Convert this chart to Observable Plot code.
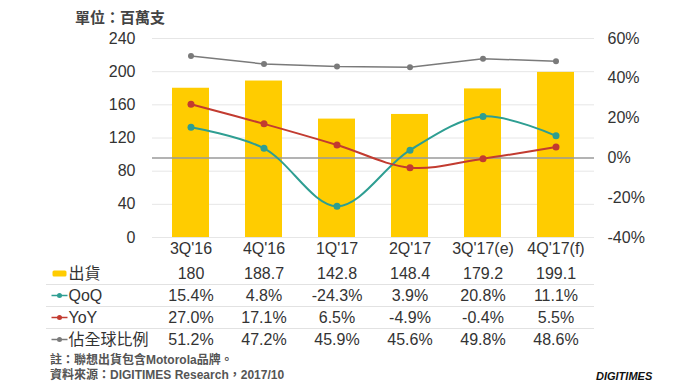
<!DOCTYPE html>
<html><head><meta charset="utf-8">
<script src="https://cdn.jsdelivr.net/npm/d3@7"></script>
<script src="https://cdn.jsdelivr.net/npm/@observablehq/plot@0.6"></script>
<style>
body{margin:0;background:#fff;font-family:"Liberation Sans",Arial,"Noto Sans CJK TC",sans-serif;}
#wrap{position:relative;width:680px;height:383px;overflow:hidden;background:#fff;}
#wrap svg{position:absolute;left:0;}
.t{position:absolute;white-space:nowrap;color:#444;}
</style></head><body><div id="wrap"></div>
<script>
const categories = ["3Q'16","4Q'16","1Q'17","2Q'17","3Q'17(e)","4Q'17(f)"];
const shipments = [180, 188.7, 142.8, 148.4, 179.2, 199.1];
const qoq = [15.4, 4.8, -24.3, 3.9, 20.8, 11.1];
const yoy = [27.0, 17.1, 6.5, -4.9, -0.4, 5.5];
const share = [51.2, 47.2, 45.9, 45.6, 49.8, 48.6];
const leftTicks = [0, 40, 80, 120, 160, 200, 240];
const rightTicks = [-40, -20, 0, 20, 40, 60];
const rowLabels = ["出貨", "QoQ", "YoY", "佔全球比例"];
const unitText = "單位：百萬支";
const noteText = "註：聯想出貨包含Motorola品牌。";
const sourceText = "資料來源：DIGITIMES Research，2017/10";

const BAR = "#FFCC00", TEAL = "#2E9E92", RED = "#C23B30", GRAY = "#7a7a7a";
const FONT = "'Liberation Sans',Arial,'Noto Sans CJK TC',sans-serif";
// percent (right axis, -40..60) mapped onto left axis (0..240)
const pct = p => (p + 40) * 2.4;
const unpct = v => Math.round(v / 2.4 - 40);

const data = categories.map((c, i) => ({cat: c, ship: shipments[i], qoq: qoq[i], yoy: yoy[i], share: share[i]}));
const wrap = document.getElementById("wrap");

const chart = Plot.plot({
  width: 680, height: 262,
  marginLeft: 152, marginRight: 86, marginTop: 38, marginBottom: 25,
  style: {fontFamily: FONT, fontSize: "16px", color: "#333", background: "transparent"},
  x: {type: "band", domain: categories, paddingInner: 0.5, paddingOuter: 0.25, axis: null},
  y: {domain: [0, 240], axis: null},
  marks: [
    Plot.ruleY(leftTicks, {stroke: "#e6e6e6", strokeWidth: 1}),
    Plot.barY(data, {x: "cat", y: "ship", fill: BAR}),
    Plot.ruleY([0].map(pct), {stroke: "#9a9a9a", strokeWidth: 1.5}),
    Plot.line(data, {x: "cat", y: d => pct(d.share), stroke: GRAY, strokeWidth: 1.5}),
    Plot.dot(data, {x: "cat", y: d => pct(d.share), fill: GRAY, r: 3}),
    Plot.line(data, {x: "cat", y: d => pct(d.qoq), stroke: TEAL, strokeWidth: 2, curve: "catmull-rom"}),
    Plot.dot(data, {x: "cat", y: d => pct(d.qoq), fill: TEAL, r: 3.5}),
    Plot.line(data, {x: "cat", y: d => pct(d.yoy), stroke: RED, strokeWidth: 2, curve: "catmull-rom"}),
    Plot.dot(data, {x: "cat", y: d => pct(d.yoy), fill: RED, r: 3.5}),
    Plot.axisY(leftTicks, {anchor: "left", tickSize: 0, tickPadding: 17, label: null, fill: "#333"}),
    Plot.axisY(rightTicks.map(pct), {anchor: "right", tickSize: 0, tickPadding: 13, label: null, fill: "#333", tickFormat: v => unpct(v) + "%"}),
    Plot.axisX(categories, {anchor: "bottom", tickSize: 0, tickPadding: 5, label: null, fill: "#333"})
  ]
});
chart.style.top = "0px";
wrap.appendChild(chart);

// table below the chart
const fmtPct = v => v.toFixed(1) + "%";
const rowValues = [shipments.map(v => String(v)), qoq.map(fmtPct), yoy.map(fmtPct), share.map(fmtPct)];
const rows = rowLabels.map((label, i) => ({label, i, kind: ["bar", "qoq", "yoy", "share"][i]}));
const cells = rows.flatMap(r => categories.map((c, j) => ({row: r.i, cat: c, text: rowValues[r.i][j]})));
const rowColor = {qoq: TEAL, yoy: RED, share: GRAY};

const rectSym = {draw(ctx) { const w = 7, h = 3, r = 1.5;
  ctx.moveTo(-w + r, -h); ctx.lineTo(w - r, -h); ctx.arcTo(w, -h, w, -h + r, r);
  ctx.lineTo(w, h - r); ctx.arcTo(w, h, w - r, h, r); ctx.lineTo(-w + r, h);
  ctx.arcTo(-w, h, -w, h - r, r); ctx.lineTo(-w, -h + r); ctx.arcTo(-w, -h, -w + r, -h, r); ctx.closePath(); }};
const lineSym = {draw(ctx) { ctx.moveTo(-8, 0); ctx.lineTo(8, 0); }};
const lineRows = rows.filter(r => r.kind !== "bar");

const table = Plot.plot({
  width: 680, height: 88,
  marginLeft: 46, marginRight: 86, marginTop: 0, marginBottom: 0,
  style: {fontFamily: FONT, fontSize: "16px", color: "#333", background: "transparent"},
  x: {type: "band", domain: categories, range: [152, 594], paddingInner: 0.5, paddingOuter: 0.25, axis: null},
  y: {domain: [0, 4], range: [0, 88], axis: null},
  marks: [
    Plot.ruleY([1, 2, 3], {stroke: "#e2e2e2", strokeWidth: 1}),
    Plot.text(cells, {x: "cat", y: d => d.row + 0.5, text: "text", fill: "#333", fontSize: 16}),
    Plot.dot(rows.filter(r => r.kind === "bar"), {y: d => d.i + 0.5, frameAnchor: "left", dx: 13, symbol: rectSym, fill: BAR, stroke: "none"}),
    Plot.dot(lineRows, {y: d => d.i + 0.5, frameAnchor: "left", dx: 13, symbol: lineSym, fill: "none", stroke: d => rowColor[d.kind], strokeWidth: 1.5}),
    Plot.dot(lineRows, {y: d => d.i + 0.5, frameAnchor: "left", dx: 13, r: 2.5, fill: d => rowColor[d.kind], stroke: "none"}),
    Plot.text(rows, {y: d => d.i + 0.5, text: "label", frameAnchor: "left", textAnchor: "start", dx: 22, fill: "#333", fontSize: 16})
  ]
});
table.style.top = "262px";
wrap.appendChild(table);

function addText(txt, css) {
  const d = document.createElement("div");
  d.className = "t"; d.textContent = txt; Object.assign(d.style, css); wrap.appendChild(d);
}
addText(unitText, {left: "75px", top: "10px", fontSize: "15px", lineHeight: "16px", fontWeight: "bold", color: "#444"});
addText(noteText, {left: "50px", top: "354px", fontSize: "12px", lineHeight: "13px", fontWeight: "bold", color: "#555"});
addText(sourceText, {left: "50px", top: "369px", fontSize: "12px", lineHeight: "13px", fontWeight: "bold", color: "#555"});
addText("DIGITIMES", {left: "596px", top: "370px", fontSize: "11px", lineHeight: "12px", fontWeight: "bold", fontStyle: "italic", color: "#111"});
</script>
</body></html>
